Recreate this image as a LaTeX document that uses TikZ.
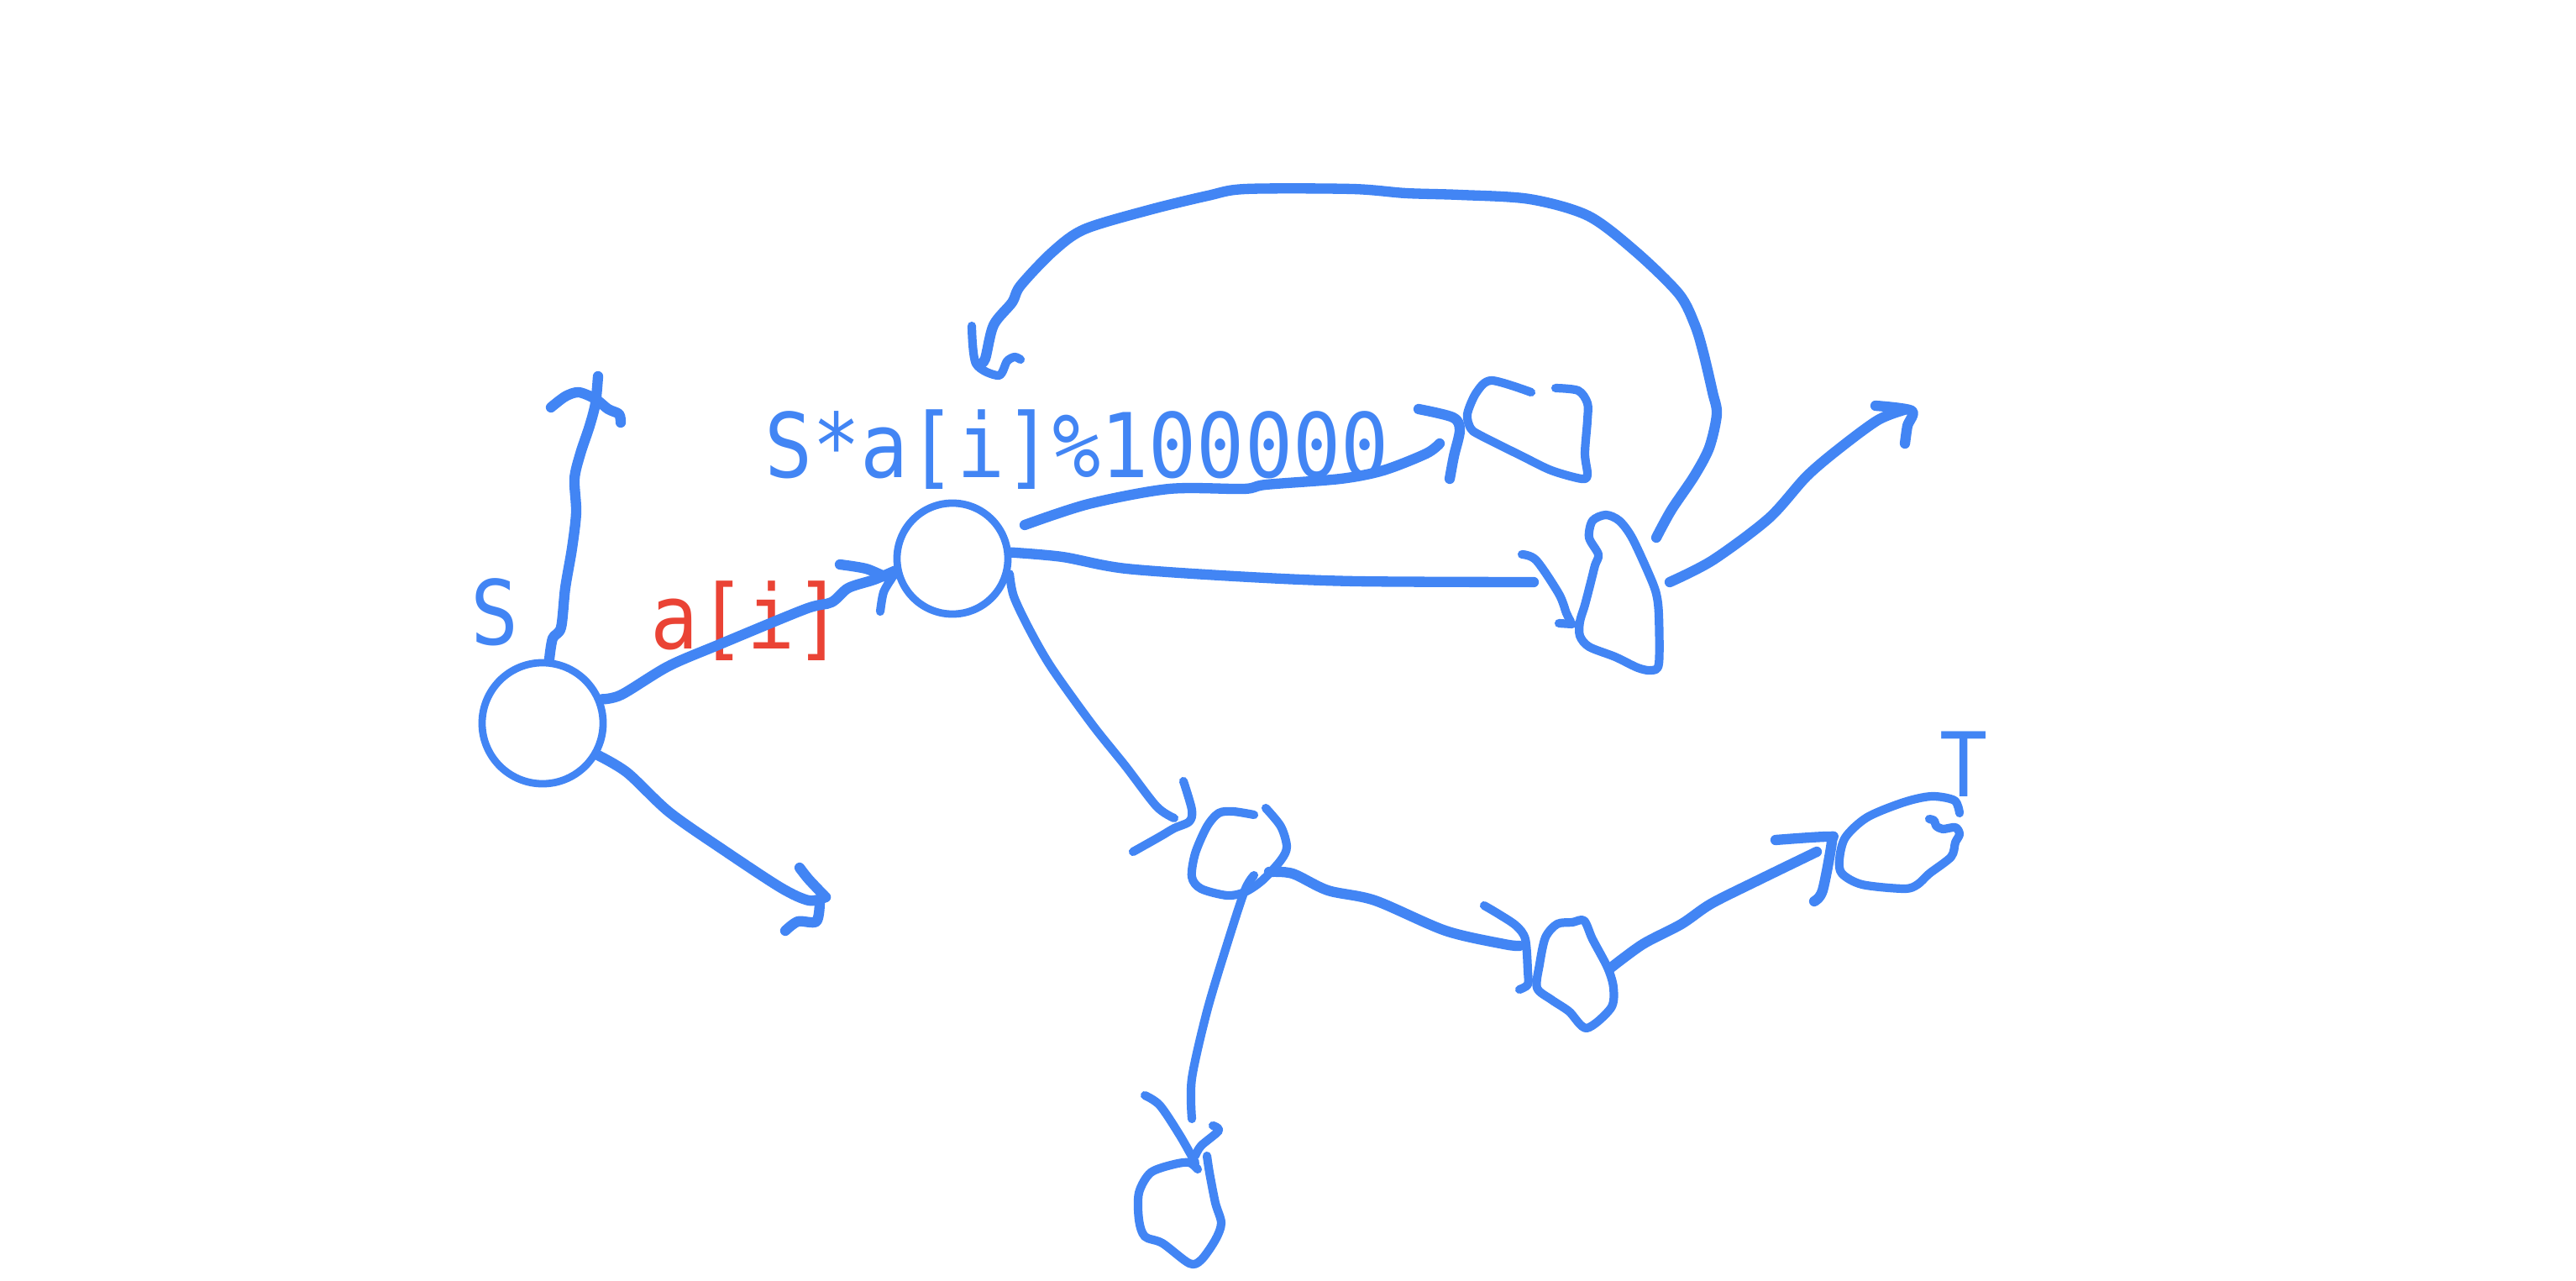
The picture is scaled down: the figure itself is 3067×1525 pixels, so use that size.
\documentclass[tikz,border=0pt]{standalone}
\usepackage{fontspec}
\setmonofont{DejaVu Sans Mono}
\definecolor{penblue}{RGB}{66,133,244}
\definecolor{penred}{RGB}{234,67,53}

\begin{document}
\begin{tikzpicture}[x=0.01cm, y=-0.01cm,
    pen/.style={draw=penblue, line width=3.5pt, line cap=round, line join=round},
    thinpen/.style={pen, line width=2.9pt},
    vertex/.style={circle, draw=penblue, line width=2.5pt, inner sep=0pt},
    lbl/.style={font=\ttfamily\fontsize{27}{30}\selectfont, text=penblue, inner sep=0pt, anchor=base}]
    \useasboundingbox (0,0) rectangle (3067,1525);

    % the two drawn states
    \node[vertex, minimum size=1.44cm] (S) at (646,861) {};
    \node[vertex, minimum size=1.32cm] (A) at (1134,665) {};

    % labels
    \node[lbl] (sname) at (589,767) {\scalebox{1}[1.12]{S}};
    \node[lbl, text=penred] (ai) at (889,772) {\scalebox{1}[1.12]{a[i]}};
    \node[lbl] (step) at (1282,569) {\scalebox{1}[1.12]{S*a[i]\%100000}};
    \node[lbl] (tname) at (2338,948) {\scalebox{1}[1.12]{T}};

    % S upwards
    \draw[pen] plot[smooth] coordinates {(S.84) (658,760) (668,747) (673,700) (681,653)
        (686,610) (684,570) (691,540) (702,507) (709,480) (712,448)};
    \draw[pen] plot[smooth] coordinates {(656,485) (673,472) (689,467) (709,475) (724,487) (737,493) (739,503)};

    % S to A
    \draw[pen] plot[smooth] coordinates {(S.22) (740,827) (796,793) (857,767) (959,725)
        (990,717) (1010,700) (1041,690) (A.192)};
    \draw[pen] plot[smooth] coordinates {(1000,672) (1031,677) (1056,687) (1064,684)};
    \draw[thinpen] plot[smooth] coordinates {(1062,688) (1052,705) (1048,728)};

    % S down-right
    \draw[pen] plot[smooth] coordinates {(S.-30) (747,920) (797,967) (863,1013) (930,1057)
        (963,1072) (983,1068)};
    \draw[pen] plot[smooth] coordinates {(952,1033) (963,1047) (983,1068)};
    \draw[pen] plot[smooth] coordinates {(976,1074) (972,1097) (950,1097) (935,1108)};

    % A to the heart
    \draw[pen] plot[smooth] coordinates {(1220,625) (1296,600) (1392,582) (1481,582) (1507,577)
        (1596,570) (1647,560) (1698,540) (1714,528)};
    \draw[pen] plot[smooth] coordinates {(1689,487) (1730,497) (1738,512) (1731,543) (1726,570)};
    \draw[thinpen] plot[smooth] coordinates {(1823,467) (1776,453) (1758,467) (1747,493) (1751,510)
        (1762,518) (1812,543) (1847,560) (1883,570) (1890,565) (1887,540) (1890,500)
        (1890,480) (1879,465) (1852,462)};

    % A to the right
    \draw[pen] plot[smooth] coordinates {(A.6) (1265,663) (1341,677) (1488,687) (1615,692) (1826,693)};
    \draw[thinpen] plot[smooth] coordinates {(1812,660) (1829,667) (1856,707) (1865,730) (1870,740)};
    \draw[thinpen] (1856,742) -- (1872,743);
    \draw[thinpen] plot[smooth cycle] coordinates {(1903,660) (1892,640) (1896,620) (1912,613)
        (1928,620) (1943,640) (1963,683) (1972,707) (1975,733) (1975,790) (1966,798)
        (1950,795) (1923,782) (1892,770) (1881,757) (1881,740) (1887,720) (1894,693)
        (1899,673)};
    \draw[pen] plot[smooth] coordinates {(1988,693) (2039,667) (2106,617) (2151,567) (2191,533)
        (2236,500) (2267,488)};
    \draw[pen] plot[smooth] coordinates {(2233,483) (2276,489) (2271,507) (2268,528)};

    % the long way back
    \draw[pen] plot[smooth] coordinates {(1972,640) (1990,607) (2017,567) (2035,533) (2044,493)
        (2039,467) (2028,420) (2018,387) (1999,350) (1948,300) (1891,257) (1821,237)
        (1738,232) (1674,230) (1610,225) (1483,225) (1438,233) (1368,250) (1291,273)
        (1253,300) (1215,340) (1205,360) (1183,387) (1173,427) (1167,433)};
    \draw[thinpen] plot[smooth] coordinates {(1157,388) (1162,433) (1189,447) (1199,430)
        (1208,425) (1215,428)};

    % A downwards
    \draw[thinpen] plot[smooth] coordinates {(A.-15) (1207,710) (1226,750) (1252,795) (1300,862)
        (1340,912) (1377,960) (1398,974)};
    \draw[thinpen] plot[smooth] coordinates {(1409,930) (1419,964) (1416,978) (1398,986)
        (1381,996) (1349,1014)};
    \draw[thinpen] plot[smooth] coordinates {(1493,970) (1468,966) (1451,968) (1437,984)
        (1423,1016) (1419,1044) (1430,1058) (1461,1066) (1482,1062) (1503,1048)
        (1525,1024) (1532,1008) (1525,984) (1507,962)};

    % second blob onwards
    \draw[pen] plot[smooth] coordinates {(1511,1038) (1539,1040) (1581,1060) (1637,1072)
        (1721,1108) (1791,1124) (1809,1126)};
    \draw[thinpen] plot[smooth] coordinates {(1767,1078) (1784,1088) (1805,1102) (1816,1118)
        (1819,1156) (1819,1172) (1809,1178)};
    \draw[thinpen] plot[smooth cycle] coordinates {(1854,1100) (1840,1116) (1833,1148)
        (1830,1176) (1847,1190) (1868,1204) (1889,1224) (1918,1200) (1921,1176)
        (1914,1152) (1896,1118) (1886,1096) (1872,1098)};
    \draw[pen] plot[smooth] coordinates {(1918,1152) (1956,1124) (2002,1100) (2037,1076)
        (2093,1048) (2163,1014)};
    \draw[pen] plot[smooth] coordinates {(2114,1000) (2177,996) (2181,1002) (2170,1060) (2160,1073)};
    \draw[thinpen] plot[smooth] coordinates {(2333,968) (2327,953) (2300,948) (2267,955)
        (2223,973) (2197,997) (2190,1023) (2193,1040) (2217,1053) (2267,1058)
        (2283,1053) (2297,1040) (2323,1020) (2328,1003) (2333,993) (2328,985)
        (2313,987) (2305,983) (2303,977) (2297,975)};

    % down to the last blob
    \draw[thinpen] plot[smooth] coordinates {(1493,1042) (1482,1060) (1461,1124) (1437,1204)
        (1419,1284) (1419,1332)};
    \draw[thinpen] plot[smooth] coordinates {(1363,1304) (1381,1316) (1405,1352) (1423,1384)};
    \draw[thinpen] plot[smooth] coordinates {(1444,1340) (1451,1346) (1430,1364) (1423,1376)};
    \draw[thinpen] plot[smooth] coordinates {(1437,1376) (1440,1396) (1447,1432) (1454,1456)
        (1447,1476) (1430,1500) (1416,1504) (1384,1480) (1363,1472) (1356,1452)
        (1356,1420) (1370,1396) (1398,1386) (1416,1384) (1426,1392)};

\end{tikzpicture}
\end{document}
